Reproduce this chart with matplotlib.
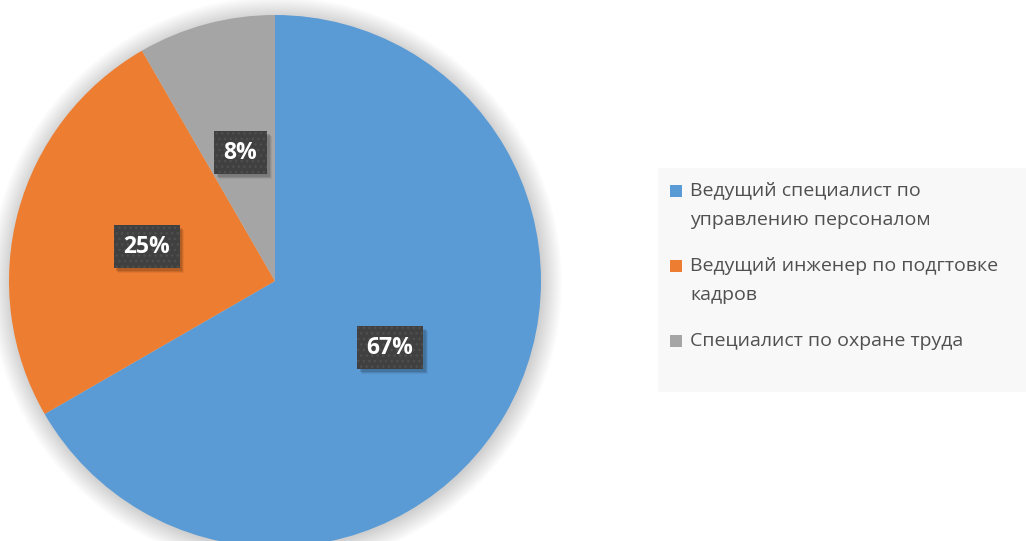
"""Pie chart: distribution of staff positions."""

import matplotlib.pyplot as plt
from matplotlib.patches import Rectangle, Circle

categories = [
    "Ведущий специалист по\nуправлению персоналом",
    "Ведущий инженер по подгтовке\nкадров",
    "Специалист по охране труда",
]
counts = [8, 3, 1]
colors = ["#5B9BD5", "#ED7D31", "#A5A5A5"]

FONT = ["Open Sans", "DejaVu Sans"]
W, H = 1026, 541


def main():
    fig = plt.figure(figsize=(W / 100, H / 100), dpi=100)
    fig.patch.set_facecolor("white")

    # pie axes, placed in pixels
    cx, cy, r = 275, 281, 266
    ax = fig.add_axes([(cx - r) / W, (H - cy - r) / H, 2 * r / W, 2 * r / H])

    # soft shadow around the pie
    for k in range(16):
        ax.add_patch(Circle((0.004, -0.006), 1.0 + 0.005 * k, color="black",
                            alpha=0.011, lw=0, zorder=0, clip_on=False))

    wedges, texts, autotexts = ax.pie(
        counts, colors=colors, startangle=90, counterclock=False,
        autopct="%.0f%%", pctdistance=0.5, radius=1,
        wedgeprops=dict(linewidth=0),
        textprops=dict(color="white", fontsize=16.5, fontweight="bold", family=FONT))
    for w in wedges:
        w.set_zorder(2)
    for t in autotexts:
        t.set_zorder(5)
        t.set_bbox(dict(boxstyle="square,pad=0.42", facecolor="#404040",
                        edgecolor="#4f4f4f", linewidth=0, hatch="..."))
    ax.set_xlim(-1, 1)
    ax.set_ylim(-1, 1)
    ax.set_aspect("equal")
    ax.axis("off")

    # blurred drop shadow under each label box
    fig.canvas.draw()
    inv = ax.transData.inverted()
    for t in autotexts:
        bb = t.get_bbox_patch().get_window_extent()
        for dx, dy, a in [(4.5, -5, 0.06), (3.5, -4, 0.09), (2.5, -3, 0.12)]:
            (x0, y0), (x1, y1) = inv.transform([(bb.x0 + dx, bb.y0 + dy),
                                                (bb.x1 + dx, bb.y1 + dy)])
            ax.add_patch(Rectangle((x0, y0), x1 - x0, y1 - y0, facecolor="black",
                                   alpha=a, linewidth=0, zorder=3))

    # legend drawn by hand
    fig.add_artist(Rectangle((658 / W, 1 - 392 / H), (W - 658) / W, (392 - 168) / H,
                             transform=fig.transFigure, facecolor="#F8F8F8",
                             edgecolor="none", zorder=0))
    y = 191
    for label, col in zip(categories, colors):
        fig.add_artist(Rectangle((670 / W, 1 - (y + 6) / H), 12 / W, 12 / H,
                                 transform=fig.transFigure, facecolor=col,
                                 edgecolor="none"))
        for line in label.split("\n"):
            fig.text(690 / W, 1 - y / H, line, va="center", ha="left",
                     fontsize=14, color="#505050", family=FONT)
            y += 29.5
        y += 16

    fig.savefig("out.png", dpi=100)


if __name__ == "__main__":
    main()
